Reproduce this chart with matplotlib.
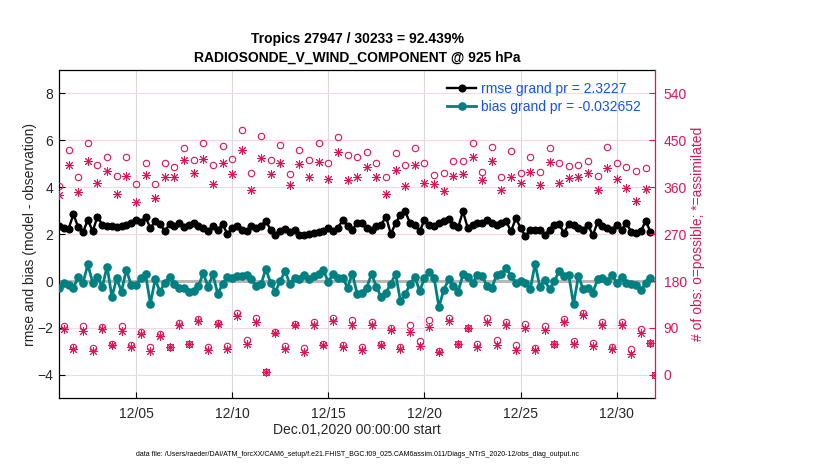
import numpy as np
import pandas as pd
import matplotlib
matplotlib.use("Agg")
import matplotlib.pyplot as plt
import matplotlib.dates as mdates

plt.rcParams['font.family'] = ['Liberation Sans', 'DejaVu Sans']

# ---------------- data ----------------
title_line1 = "Tropics 27947 / 30233 = 92.439%"
title_line2 = "RADIOSONDE_V_WIND_COMPONENT @ 925 hPa"
rmse_label = "rmse grand pr = 2.3227"
bias_label = "bias grand pr = -0.032652"
xlabel = "Dec.01,2020 00:00:00 start"
ylabel_left = "rmse and bias (model - observation)"
ylabel_right = "# of obs: o=possible; *=assimilated"
footer = ("data file: /Users/raeder/DAI/ATM_forcXX/CAM6_setup/f.e21.FHIST_BGC.f09_025."
          "CAM6assim.011/Diags_NTrS_2020-12/obs_diag_output.nc")

# 6-hourly bins, Dec 1 00Z .. Jan 1 00Z
bin_times = pd.date_range("2020-12-01 00:00", periods=125, freq="6h")

rmse = [2.33, 2.26, 2.23, 2.85, 2.29, 2.09, 2.61, 2.12, 2.75, 2.40, 2.33, 2.36, 2.30, 2.36, 2.40, 2.47,
        2.61, 2.51, 2.73, 2.26, 2.54, 2.43, 2.12, 2.43, 2.33, 2.47, 2.30, 2.40, 2.47, 2.36, 2.26, 2.12,
        2.33, 2.19, 2.43, 2.01, 2.26, 2.33, 2.19, 2.12, 2.36, 2.26, 2.33, 2.57, 2.19, 1.95, 2.12, 2.22,
        2.09, 2.19, 1.95, 1.98, 2.01, 2.05, 2.09, 2.12, 2.26, 2.15, 2.26, 2.61, 2.33, 2.19, 2.47,
        2.47, 2.26, 2.19, 2.33, 2.40, 2.75, 2.01, 2.47, 2.82, 2.97, 2.47, 2.40, 2.12, 2.61, 2.40, 2.33,
        2.47, 2.57, 2.66, 2.40, 2.29, 2.97, 2.26, 2.40, 2.47, 2.47, 2.61, 2.47, 2.40, 2.47, 2.54,
        2.12, 2.68, 2.26, 1.91, 2.19, 2.19, 2.19, 1.95, 2.19, 2.40, 2.43, 2.05, 2.43, 2.40, 2.26,
        2.19, 2.40, 1.95, 2.51, 2.33, 2.26, 2.19, 2.40, 2.19, 2.47, 2.09, 2.05, 2.12, 2.57, 2.09]

bias = [-0.28, -0.07, -0.17, -0.28, 0.17, -0.07, 0.71, -0.07, 0.17, -0.25, 0.62, -0.68, 0.11, -0.45, 0.49, -0.17,
        -0.17, 0.14, 0.28, -0.96, 0.07, -0.45, -0.07, 0.17, -0.11, -0.28, -0.28, -0.45, -0.42, -0.21, 0.34, -0.25,
        0.28, -0.54, -0.14, 0.17, 0.14, 0.21, 0.21, 0.25, 0.07, -0.21, -0.14, 0.51, -0.07, -0.45, 0.00, 0.42,
        -0.11, 0.14, 0.07, 0.25, 0.07, 0.21, 0.28, 0.45, -0.04, 0.31, 0.14, 0.14, -0.28, 0.31, -0.54,
        -0.49, -0.28, 0.31, -0.25, -0.68, -0.49, -0.11, 0.31, -0.85, -0.56, -0.14, 0.17, -0.42, 0.11, 0.40, 0.14,
        -1.10, -0.40, 0.07, -0.21, -0.45, 0.28, 0.17, -0.07, 0.25, 0.21, -0.21, -0.28, 0.25, 0.28, 0.54,
        0.21, -0.07, 0.00, -0.07, -0.35, 0.73, -0.25, 0.03, -0.35, 0.00, 0.42, 0.21, 0.25, -0.99, 0.21,
        -0.35, -0.28, -0.49, 0.07, 0.14, 0.00, 0.25, -0.07, 0.17, -0.07, -0.14, -0.17, -0.40, -0.07, 0.14]

n_possible = [363, 94, 432, 53, 379, 93, 444, 51, 402, 91, 419, 59, 381, 93, 419, 57,
              367, 83, 406, 53, 366, 78, 406, 53, 398, 99, 436, 60, 413, 107, 444, 53,
              402, 99, 439, 55, 415, 119, 470, 66, 387, 110, 459, 5, 412, 83, 442, 55,
              385, 97, 432, 51, 413, 102, 444, 59, 406, 109, 457, 57, 421, 105, 419,
              53, 427, 101, 406, 60, 379, 89, 425, 53, 402, 95, 436, 64, 406, 105, 383,
              45, 387, 110, 411, 60, 410, 89, 444, 60, 390, 110, 438, 67, 379, 102,
              429, 57, 388, 97, 419, 51, 390, 94, 436, 60, 407, 107, 400, 64, 402,
              118, 411, 62, 381, 101, 438, 53, 407, 102, 398, 50, 392, 88, 396, 62, 0]

n_used = [345, 88, 402, 50, 350, 85, 410, 46, 369, 88, 392, 58, 348, 85, 381, 54,
          331, 78, 383, 45, 339, 74, 379, 53, 379, 96, 412, 59, 387, 104, 415, 48,
          366, 97, 406, 50, 385, 113, 431, 59, 354, 101, 417, 5, 385, 80, 406, 50,
          364, 96, 404, 43, 379, 96, 408, 58, 375, 103, 427, 53, 373, 96, 379,
          47, 398, 96, 379, 57, 347, 86, 394, 49, 362, 83, 402, 55, 369, 91, 366,
          43, 352, 103, 381, 59, 385, 89, 419, 53, 373, 101, 410, 57, 354, 96,
          379, 48, 368, 89, 390, 48, 364, 87, 408, 59, 368, 101, 377, 59, 379,
          115, 387, 55, 354, 96, 396, 49, 375, 96, 358, 40, 333, 81, 356, 61, 0]

left_ticks = [-4, -2, 0, 2, 4, 6, 8]
right_ticks = [0, 90, 180, 270, 360, 450, 540]
date_ticks = pd.to_datetime(["2020-12-05", "2020-12-10", "2020-12-15",
                             "2020-12-20", "2020-12-25", "2020-12-30"])

# ---------------- styling ----------------
CRIMSON = '#d8175a'
TEAL = '#008080'
BLUE = '#1552f5'
TXT = '#262626'

fig = plt.figure(figsize=(8.3, 4.7), dpi=100)
ax = fig.add_axes([59 / 830, 1 - 398.3 / 470, 596.3 / 830, 328.3 / 470])

ax.set_xlim(bin_times[0], bin_times[-1])
ax.set_ylim(-5, 9)
ax.set_yticks(left_ticks)
ax.set_xticks(date_ticks)
ax.xaxis.set_major_formatter(mdates.DateFormatter("%m/%d"))

ax.grid(axis='x', color='#dadada', lw=0.8)
ax.grid(axis='y', color='#f8d6e2', lw=0.8)
ax.set_axisbelow(True)

ax.axhline(0, color='#b7b7b7', lw=2.2, zorder=1.5)

t_stat = bin_times[:len(rmse)]
l_rmse, = ax.plot(t_stat, rmse, '-o', color='black', lw=1.7, ms=4.8,
                  mec='black', mfc='black', zorder=3, label=rmse_label)
l_bias, = ax.plot(t_stat, bias, '-o', color=TEAL, lw=2.0, ms=5.2,
                  mec=TEAL, mfc=TEAL, zorder=3, label=bias_label)

ax.tick_params(axis='both', direction='in', length=4, width=0.8,
               labelsize=10, labelcolor=TXT, top=False, right=False, pad=6)
ax.tick_params(axis='y', pad=4)
for s in ['left', 'top', 'bottom']:
    ax.spines[s].set_color('black')
    ax.spines[s].set_linewidth(0.9)
ax.spines['right'].set_visible(False)

ax.set_xlabel(xlabel, fontsize=10, color=TXT)
ax.xaxis.set_label_coords(0.5, -0.097)
ax.xaxis.label.set_va('center')
ax.set_ylabel(ylabel_left, fontsize=10, color=TXT)
ax.yaxis.set_label_coords(-0.0487, 0.5)
ax.yaxis.label.set_va('center')

leg = ax.legend(handles=[l_rmse, l_bias], loc='upper left',
                bbox_to_anchor=(0.651, 0.963), frameon=False, fontsize=10,
                borderpad=0, borderaxespad=0, handlelength=2.1,
                handletextpad=0.35, labelspacing=0.25)
for txt in leg.get_texts():
    txt.set_color(BLUE)

# right axis: observation counts
ax2 = ax.twinx()
ax2.set_ylim(-45, 585)
ax2.set_yticks(right_ticks)
ax2.plot(bin_times, n_possible, ls='none', marker='o', ms=4.6, mfc='none',
         mec=CRIMSON, mew=0.8, zorder=4)
ax2.plot(bin_times, n_used, ls='none', marker=(8, 2, 0), ms=6.2,
         mec=CRIMSON, mew=0.7, zorder=4)
ax2.tick_params(axis='y', direction='in', length=4, width=0.8, colors=CRIMSON,
                labelsize=10, pad=6)
for s in ['left', 'top', 'bottom']:
    ax2.spines[s].set_visible(False)
ax2.spines['right'].set_color(CRIMSON)
ax2.spines['right'].set_linewidth(0.9)
ax2.set_ylabel(ylabel_right, fontsize=10, color=CRIMSON)
ax2.yaxis.set_label_coords(1.072, 0.5)
ax2.yaxis.label.set_va('center')

fig.text(357 / 830, 1 - 39 / 470, title_line1, ha='center', va='center',
         fontsize=10, fontweight='bold')
fig.text(357 / 830, 1 - 58 / 470, title_line2, ha='center', va='center',
         fontsize=10, fontweight='bold')
fig.text(357 / 830, 1 - 455 / 470, footer, ha='center', va='center', fontsize=5)

fig.savefig("out.png", dpi=100)
